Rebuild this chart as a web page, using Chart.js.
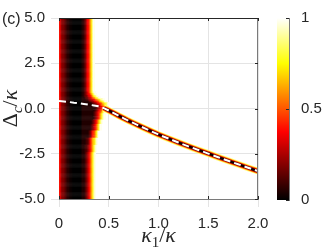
<!DOCTYPE html>
<html>
<head>
<meta charset="utf-8">
<script src="https://cdn.jsdelivr.net/npm/chart.js@4.4.1/dist/chart.umd.min.js"></script>
<style>
  html, body { margin: 0; padding: 0; background: #fff; }
  #wrap { position: relative; width: 332px; height: 249px; }
  #wrap canvas { position: absolute; left: 0; top: 0; }
</style>
</head>
<body>
<div id="wrap">
  <canvas id="cbar" width="332" height="249"></canvas>
  <canvas id="heat" width="332" height="249"></canvas>
</div>
<script>
// ticks
const xTicks = [0, 0.5, 1, 1.5, 2];
const xTickLabels = ["0", "0.5", "1.0", "1.5", "2.0"];
const yTicks = [-5, -2.5, 0, 2.5, 5];
const yTickLabels = ["-5.0", "-2.5", "0.0", "2.5", "5.0"];
const cbTicks = [0, 0.5, 1];
const cbTickLabels = ["0", "0.5", "1"];

// band intensity across kappa1/kappa (read far from the crossing)
const bandK = [0, 0.01, 0.02, 0.03, 0.04, 0.05, 0.06, 0.07, 0.08, 0.09,
  0.10, 0.11, 0.12, 0.13, 0.14, 0.15, 0.16, 0.17, 0.18, 0.19,
  0.20, 0.21, 0.22, 0.23, 0.24, 0.25, 0.26, 0.27, 0.28, 0.29,
  0.30, 0.31, 0.32, 0.33, 0.34, 0.35, 0.36];
const bandV = [0.40, 0.34, 0.28, 0.23, 0.19, 0.16, 0.13, 0.10, 0.08, 0.06,
  0.04, 0.03, 0.02, 0.01, 0, 0, 0, 0, 0, 0,
  0, 0, 0.01, 0.02, 0.05, 0.10, 0.15, 0.21, 0.28, 0.36,
  0.45, 0.56, 0.68, 0.80, 0.91, 0.98, 1];

// band widening near the crossing: per Delta row, extra black core and extra flank width
const bendD =     [1.0, 0.9, 0.8, 0.7, 0.6, 0.5, 0.4, 0.3, 0.2, 0.1, 0.0, -0.1, -0.2, -0.3, -0.5, -0.7, -1.0, -1.4, -1.8, -2.2, -2.6];
const bendCore =  [0, 0, 0, 0.005, 0.01, 0.02, 0.05, 0.08, 0.10, 0.12, 0.12, 0.11, 0.10, 0.10, 0.10, 0.085, 0.07, 0.05, 0.03, 0.02, 0.015];
const bendFlank = [0, 0.01, 0.02, 0.03, 0.05, 0.08, 0.07, 0.07, 0.05, 0.04, 0.03, 0.02, 0.02, 0.01, 0.01, 0, 0, 0, 0, 0, 0];

// dark ridge centre line
const ridgeK = [0.45, 0.50, 0.55, 0.60, 0.65, 0.70, 0.75, 0.80, 0.90, 1.00,
  1.10, 1.20, 1.30, 1.40, 1.50, 1.60, 1.70, 1.80, 1.90, 2.00];
const ridgeD = [0.02, -0.11, -0.25, -0.40, -0.54, -0.68, -0.81, -0.94, -1.19, -1.44,
  -1.66, -1.88, -2.09, -2.29, -2.49, -2.69, -2.89, -3.08, -3.27, -3.46];

// dashed analytic curve, left part (then follows the ridge)
const theoryK = [0, 0.05, 0.10, 0.15, 0.20, 0.25, 0.30, 0.35, 0.40];
const theoryD = [0.42, 0.39, 0.36, 0.32, 0.29, 0.25, 0.21, 0.17, 0.12];

const cellDK = 0.01, cellDD = 0.05;
const coreEnd = 0.24, flankW = 0.11;
const tickFont = { family: "'Liberation Sans', Arial, sans-serif", size: 15 };
const textColor = "#262626";

function hot(v) {
  const c = (t) => Math.round(Math.min(1, Math.max(0, t)) * 255);
  return `rgb(${c(v / 0.375)},${c((v - 0.375) / 0.375)},${c((v - 0.75) / 0.25)})`;
}

function nearestIndex(arr, v) {
  let best = 0;
  for (let i = 1; i < arr.length; i++) {
    if (Math.abs(arr[i] - v) < Math.abs(arr[best] - v)) best = i;
  }
  return best;
}

function bandValue(k, d) {
  let kk = k;
  if (k > coreEnd) {
    const r = nearestIndex(bendD, d);
    if (k <= coreEnd + bendCore[r]) kk = coreEnd;
    else kk = coreEnd + (k - coreEnd - bendCore[r]) * flankW / (flankW + bendFlank[r]);
  }
  if (kk > bandK[bandK.length - 1]) return 1;
  return bandV[nearestIndex(bandK, kk)];
}

// heat map cells of the band
const cells = [];
const cellColors = [];
for (let i = 0; i < 50; i++) {
  const k = (i + 0.5) * cellDK;
  for (let j = 0; j < 200; j++) {
    const d = -5 + (j + 0.5) * cellDD;
    const v = bandValue(k, d);
    if (v >= 0.985) continue;
    cells.push({ x: k, y: d });
    cellColors.push(hot(v));
  }
}

// ridge drawn as nested lines, outer = pale, inner = black
const ridgeLayers = [
  { v: 0.02, w: 2.2 },
  { v: 0.20, w: 3.2 },
  { v: 0.42, w: 4.3 },
  { v: 0.64, w: 5.4 },
  { v: 0.88, w: 6.8 }
];

const datasets = [{
  type: "line",
  data: theoryK.map((k, i) => ({ x: k, y: theoryD[i] })).concat(ridgeK.map((k, i) => ({ x: k, y: ridgeD[i] }))),
  borderColor: "#ffffff",
  borderWidth: 2,
  borderDash: [7, 4],
  pointRadius: 0,
  order: 0
}];
ridgeLayers.forEach((l, i) => {
  datasets.push({
    type: "line",
    data: ridgeK.map((k, n) => ({ x: k, y: ridgeD[n] })),
    borderColor: hot(l.v),
    borderWidth: l.w,
    pointRadius: 0,
    order: i + 1
  });
});
datasets.push({
  type: "scatter",
  data: cells,
  backgroundColor: cellColors,
  borderWidth: 0,
  pointStyle: "rect",
  pointRadius: 0.95,
  order: 10
});

const decor = {
  id: "decor",
  afterDraw(chart) {
    const { ctx, chartArea: a, scales } = chart;
    ctx.save();
    ctx.lineWidth = 1;
    ctx.strokeStyle = "#262626";
    ctx.beginPath();
    ctx.moveTo(a.left, Math.round(a.top) + 0.5);
    ctx.lineTo(a.right, Math.round(a.top) + 0.5);
    ctx.stroke();
    ctx.strokeStyle = "#7a7a7a";
    ctx.beginPath();
    ctx.moveTo(Math.round(a.right) - 0.5, a.top);
    ctx.lineTo(Math.round(a.right) - 0.5, a.bottom);
    ctx.stroke();
    // inward tick marks
    ctx.strokeStyle = "#262626";
    ctx.beginPath();
    xTicks.forEach((v) => {
      const p = Math.round(scales.x.getPixelForValue(v)) + 0.5;
      ctx.moveTo(p, a.top); ctx.lineTo(p, a.top + 3);
      ctx.moveTo(p, a.bottom); ctx.lineTo(p, a.bottom - 3);
    });
    yTicks.forEach((v) => {
      const p = Math.round(scales.y.getPixelForValue(v)) + 0.5;
      ctx.moveTo(a.right, p); ctx.lineTo(a.right - 3, p);
    });
    ctx.stroke();

    ctx.fillStyle = textColor;
    ctx.textBaseline = "alphabetic";
    const serifIt = "italic 22px 'Liberation Serif', 'Times New Roman', serif";
    const serif = "22px 'Liberation Serif', 'Times New Roman', serif";
    const sub = "15px 'Liberation Serif', 'Times New Roman', serif";
    const subIt = "italic 15px 'Liberation Serif', 'Times New Roman', serif";
    const drawPieces = (pieces, cx, base) => {
      let total = 0;
      pieces.forEach((p) => { ctx.font = p.font; p.w = ctx.measureText(p.t).width; total += p.w; });
      let x = cx - total / 2;
      ctx.textAlign = "left";
      pieces.forEach((p) => { ctx.font = p.font; ctx.fillText(p.t, x, base + p.dy); x += p.w; });
    };
    drawPieces([
      { t: "κ", font: serifIt, dy: 0 },
      { t: "1", font: sub, dy: 5 },
      { t: "/", font: serif, dy: 0 },
      { t: "κ", font: serifIt, dy: 0 }
    ], (a.left + a.right) / 2, 242);
    ctx.save();
    ctx.translate(17, (a.top + a.bottom) / 2);
    ctx.rotate(-Math.PI / 2);
    drawPieces([
      { t: "Δ", font: serif, dy: 0 },
      { t: "c", font: subIt, dy: 5 },
      { t: "/", font: serif, dy: 0 },
      { t: "κ", font: serifIt, dy: 0 }
    ], 0, 0);
    ctx.restore();
    ctx.font = "16px 'Liberation Sans', Arial, sans-serif";
    ctx.textAlign = "left";
    ctx.fillText("(c)", 2, 24);
    ctx.restore();
  }
};

new Chart(document.getElementById("heat"), {
  type: "scatter",
  data: { datasets },
  options: {
    responsive: false,
    animation: false,
    events: [],
    layout: { padding: { left: 0, top: 18, right: 74, bottom: 0 } },
    plugins: { legend: { display: false }, tooltip: { enabled: false } },
    scales: {
      x: {
        type: "linear",
        min: 0,
        max: 2,
        afterFit: (s) => { s.height = 50; },
        ticks: { stepSize: 0.5, callback: (v, i) => xTickLabels[i], font: tickFont, color: textColor, padding: 8, maxRotation: 0 },
        grid: { color: "#e4e4e4" },
        border: { color: "#7a7a7a" }
      },
      y: {
        type: "linear",
        min: -5,
        max: 5,
        afterFit: (s) => { s.width = 59; },
        ticks: { stepSize: 2.5, callback: (v, i) => yTickLabels[i], font: tickFont, color: textColor, padding: 6 },
        grid: { color: "#e4e4e4" },
        border: { color: "#7a7a7a" }
      }
    }
  },
  plugins: [decor]
});

// colour bar (separate canvas underneath)
const cbTickMarks = {
  id: "cbTickMarks",
  afterDraw(chart) {
    const { ctx, chartArea: a, scales } = chart;
    ctx.save();
    ctx.strokeStyle = "#262626";
    ctx.lineWidth = 1;
    ctx.beginPath();
    cbTicks.forEach((v) => {
      const p = Math.round(scales.y.getPixelForValue(v)) + 0.5;
      ctx.moveTo(a.right, p); ctx.lineTo(a.right - 3, p);
    });
    ctx.stroke();
    ctx.restore();
  }
};

new Chart(document.getElementById("cbar"), {
  type: "bar",
  data: {
    labels: [""],
    datasets: [{
      data: [[0, 1]],
      borderWidth: 0,
      barPercentage: 1,
      categoryPercentage: 1,
      backgroundColor: (ctx) => {
        const chart = ctx.chart;
        if (!chart.chartArea) return "#000";
        const y = chart.scales.y;
        const g = chart.ctx.createLinearGradient(0, y.getPixelForValue(0), 0, y.getPixelForValue(1));
        for (let i = 0; i <= 64; i++) g.addColorStop(i / 64, hot(i / 64));
        return g;
      }
    }]
  },
  options: {
    responsive: false,
    animation: false,
    events: [],
    layout: { padding: { left: 277, top: 18, right: 0, bottom: 49 } },
    plugins: { legend: { display: false }, tooltip: { enabled: false } },
    scales: {
      x: { display: false },
      y: {
        position: "right",
        min: 0,
        max: 1,
        afterFit: (s) => { s.width = 43; },
        ticks: { stepSize: 0.5, callback: (v, i) => cbTickLabels[i], font: tickFont, color: textColor, padding: 4 },
        grid: { display: false },
        border: { color: "#7a7a7a" }
      }
    }
  },
  plugins: [cbTickMarks]
});
</script>
</body>
</html>
